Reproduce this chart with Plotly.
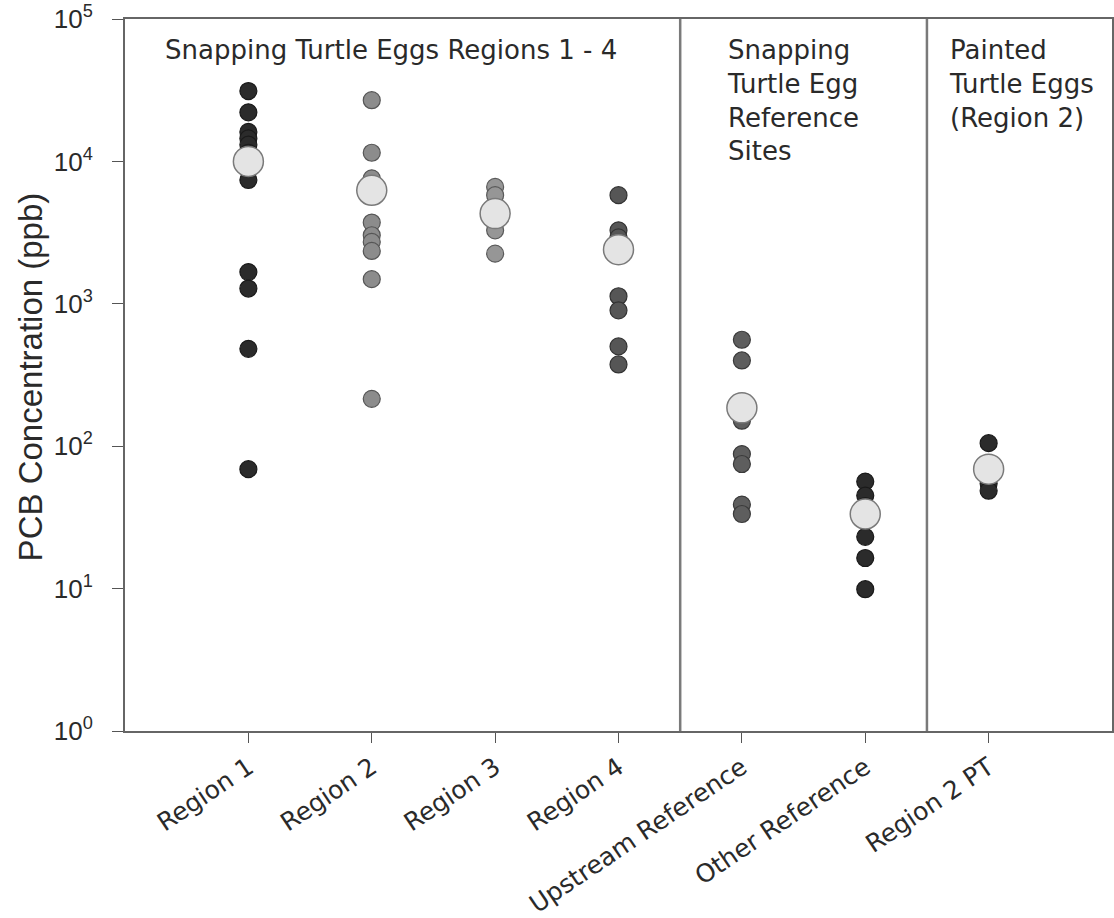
import plotly.graph_objects as go

categories = ["Region 1", "Region 2", "Region 3", "Region 4",
              "Upstream Reference", "Other Reference", "Region 2 PT"]

region1 = [31200, 22100, 16100, 14500, 13100, 11500, 7400, 1670, 1280, 483, 69]
region2 = [26900, 11500, 7600, 3720, 3030, 2720, 2350, 1490, 215]
region3 = [6620, 5790, 3280, 2250]
region4 = [5790, 3280, 2930, 1130, 900, 502, 375]
upstream_ref = [559, 400, 151, 88, 75, 38.9, 33.4]
other_ref = [56.4, 45, 38, 23.1, 16.4, 9.9]
region2_pt = [105, 54.6, 48.7]

means = [10000, 6270, 4300, 2400, 186, 33.4, 69]

series = [region1, region2, region3, region4, upstream_ref, other_ref, region2_pt]
fill_colors = ["#2b2b2b", "#8c8c8c", "#969696", "#565656", "#5e5e5e", "#2b2b2b", "#2b2b2b"]
line_colors = ["#1a1a1a", "#555555", "#5a5a5a", "#333333", "#3a3a3a", "#1a1a1a", "#1a1a1a"]

y_tickvals = [1, 10, 100, 1000, 10000, 100000]
y_ticktext = ["10<sup>0</sup>", "10<sup>1</sup>", "10<sup>2</sup>",
              "10<sup>3</sup>", "10<sup>4</sup>", "10<sup>5</sup>"]

y_title = "PCB Concentration (ppb)"
group_titles = ["Snapping Turtle Eggs Regions 1 - 4",
                "Snapping<br>Turtle Egg<br>Reference<br>Sites",
                "Painted<br>Turtle Eggs<br>(Region 2)"]
group_title_x = [-0.69, 3.86, 5.66]
dividers = [3.5, 5.5]

FONT = "DejaVu Sans, sans-serif"
ARIAL = "Liberation Sans, Arial, sans-serif"
TXT = "#2a2a2a"

fig = go.Figure()
for i, vals in enumerate(series):
    fig.add_trace(go.Scatter(
        x=[i] * len(vals), y=vals, mode="markers",
        marker=dict(size=17, color=fill_colors[i],
                    line=dict(color=line_colors[i], width=1.2)),
        showlegend=False, hoverinfo="y"))

fig.add_trace(go.Scatter(
    x=list(range(len(categories))), y=means, mode="markers",
    marker=dict(size=30, color="#e4e4e4", line=dict(color="#7a7a7a", width=1.5)),
    showlegend=False, hoverinfo="y"))

for d in dividers:
    fig.add_shape(type="line", xref="x", yref="paper", x0=d, x1=d, y0=0, y1=1,
                  line=dict(color="#7a7a7a", width=2.5))

for t, xx in zip(group_titles, group_title_x):
    fig.add_annotation(text=t, x=xx, xref="x", y=0.98, yref="paper",
                       xanchor="left", yanchor="top", showarrow=False, align="left",
                       font=dict(family=FONT, size=26, color=TXT))

fig.add_annotation(text=y_title, x=-0.096, xref="paper", y=0.497, yref="paper",
                   xanchor="center", yanchor="middle", textangle=-90, showarrow=False,
                   font=dict(family=ARIAL, size=33, color=TXT))

fig.update_xaxes(range=[-1, 7], tickmode="array", tickvals=list(range(len(categories))),
                 ticktext=categories, tickangle=-34, ticks="outside", ticklen=10,
                 tickcolor="#555555", showline=True, linecolor="#666666", linewidth=2,
                 mirror=True, showgrid=False, zeroline=False, automargin=False,
                 tickfont=dict(family=FONT, size=25, color=TXT))
fig.update_yaxes(type="log", range=[0, 5], tickmode="array", tickvals=y_tickvals,
                 ticktext=y_ticktext, ticks="outside", ticklen=11, tickcolor="#555555",
                 showline=True, linecolor="#666666", linewidth=2, mirror=True,
                 showgrid=False, zeroline=False, automargin=False, ticklabelstandoff=14,
                 ticklabeloverflow="allow",
                 tickfont=dict(family=ARIAL, size=26, color=TXT))

fig.update_layout(width=1114, height=918, plot_bgcolor="white", paper_bgcolor="white",
                  margin=dict(l=125, r=2, t=19, b=187), font=dict(family=FONT))

# remove the browser's default 8px body margin so the figure sits at the page origin
fig.write_html("out.html", config={"displayModeBar": False},
               post_script="document.body.style.margin='0';")
